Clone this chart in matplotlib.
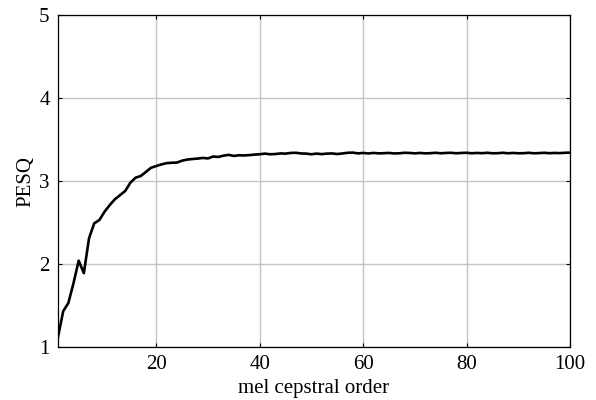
import matplotlib as mpl
import matplotlib.pyplot as plt

mpl.use("Agg")

plt.rcParams["font.family"] = ["Liberation Serif", "DejaVu Serif"]

order = list(range(1, 101))
pesq = [
    1.12, 1.43, 1.53, 1.77, 2.04, 1.89, 2.31, 2.49, 2.53, 2.63,
    2.71, 2.78, 2.83, 2.88, 2.98, 3.04, 3.06, 3.11, 3.16, 3.18,
    3.200, 3.215, 3.220, 3.222, 3.245, 3.258, 3.265, 3.270, 3.278, 3.272,
    3.295, 3.290, 3.305, 3.315, 3.302, 3.310, 3.308, 3.312, 3.318, 3.322,
    3.330, 3.322, 3.325, 3.332, 3.330, 3.338, 3.340, 3.332, 3.330, 3.322,
    3.330, 3.324, 3.330, 3.332, 3.325, 3.332, 3.340, 3.342, 3.333, 3.338,
    3.332, 3.338, 3.333, 3.335, 3.338, 3.332, 3.334, 3.340, 3.338, 3.333,
    3.338, 3.333, 3.335, 3.340, 3.334, 3.338, 3.340, 3.334, 3.338, 3.340,
    3.334, 3.338, 3.335, 3.340, 3.334, 3.335, 3.340, 3.334, 3.338, 3.334,
    3.335, 3.340, 3.334, 3.336, 3.340, 3.335, 3.338, 3.336, 3.340, 3.342,
]

fig = plt.figure(figsize=(5.96, 4.0), dpi=100)
ax = fig.add_axes([58 / 596, 53 / 400, 512 / 596, 332 / 400])
ax.plot(order, pesq, color="black", linewidth=1.9)

ax.set_xlim(1, 100)
ax.set_ylim(1, 5)
ax.set_xticks([20, 40, 60, 80, 100])
ax.set_yticks([1, 2, 3, 4, 5])
ax.grid(True, color="#c4c4c4", linewidth=1.0)
ax.set_axisbelow(True)
ax.tick_params(direction="in", length=3, width=0.8, labelsize=15,
               top=True, right=True, pad=6)
for s in ax.spines.values():
    s.set_linewidth(0.9)
ax.set_xlabel("mel cepstral order", fontsize=15, labelpad=3)
ax.set_ylabel("PESQ", fontsize=15, labelpad=3)

plt.savefig("out.png", dpi=100)
plt.close(fig)
